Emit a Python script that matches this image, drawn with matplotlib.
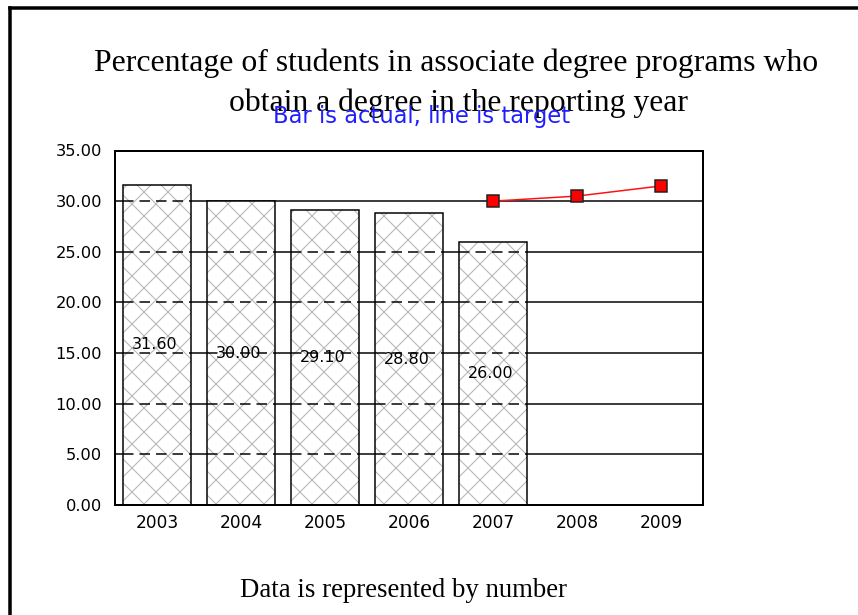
import matplotlib
matplotlib.use("Agg")
import matplotlib.pyplot as plt
from matplotlib.lines import Line2D
import numpy as np

# ---- data ----
years = ["2003", "2004", "2005", "2006", "2007", "2008", "2009"]
actual_years = ["2003", "2004", "2005", "2006", "2007"]
actual_values = [31.60, 30.00, 29.10, 28.80, 26.00]
target_years = ["2007", "2008", "2009"]
target_values = [30.0, 30.5, 31.5]
y_ticks = [0, 5, 10, 15, 20, 25, 30, 35]

title_line1 = "Percentage of students in associate degree programs who"
title_line2 = "obtain a degree in the reporting year"
subtitle = "Bar is actual, line is target"
footer = "Data is represented by number"

DPI = 72
W, H = 858, 615
plt.rcParams['hatch.linewidth'] = 1.1
fig = plt.figure(figsize=(W / DPI, H / DPI), dpi=DPI)
fig.patch.set_facecolor("white")

ax = fig.add_axes([115 / W, 1 - 505 / H, 588 / W, 354.5 / H])

xpos = {y: i for i, y in enumerate(years)}
bx = np.array([xpos[y] for y in actual_years])
tx = np.array([xpos[y] for y in target_years])
bw = 0.81

# solid gridlines behind bars
for yv in y_ticks[1:-1]:
    ax.axhline(yv, color="black", lw=1.5, zorder=1)

# hatched bars (gray hatch), then black outline
ax.bar(bx, actual_values, width=bw, facecolor="white", edgecolor="#b8b8b8",
       hatch="x", linewidth=0, zorder=2)
ax.bar(bx, actual_values, width=bw, facecolor="none", edgecolor="black",
       linewidth=1.5, zorder=4)

# dashed gridlines over the bars
for yv in y_ticks[1:-1]:
    for x0, v in zip(bx, actual_values):
        if v > yv:
            ax.hlines(yv, x0 - bw / 2, x0 + bw / 2, colors="black", lw=1.5,
                      linestyles=(0, (7, 4)), zorder=3)

# value labels at mid-height
for x0, v in zip(bx, actual_values):
    ax.text(x0 - 0.03, v / 2, f"{v:.2f}", ha="center", va="center",
            fontsize=16, family="DejaVu Sans", color="black", zorder=5)

# target line
ax.plot(tx, target_values, color="#ff1010", lw=1.5, zorder=6)
ax.plot(tx, target_values, ls="none", marker="s", markersize=12,
        markerfacecolor="#ff0000", markeredgecolor="#202020",
        markeredgewidth=1.5, zorder=7)

ax.set_xlim(-0.5, len(years) - 0.5)
ax.set_ylim(0, 35)
ax.set_xticks(range(len(years)))
ax.set_xticklabels(years, fontsize=17, family="DejaVu Sans")
ax.set_yticks(y_ticks)
ax.set_yticklabels([f"{v:.2f}" for v in y_ticks], fontsize=16.2,
                   family="DejaVu Sans")
ax.tick_params(axis="both", length=0)
ax.tick_params(axis="y", pad=13)
ax.tick_params(axis="x", pad=9)
for s in ax.spines.values():
    s.set_linewidth(2)
    s.set_color("black")
    s.set_zorder(8)

# titles
serif = ["Liberation Serif", "DejaVu Serif"]
fig.text(0.532, 1 - 70.7 / H, title_line1, ha="center", va="baseline",
         fontsize=31.8, family=serif)
fig.text(0.5345, 1 - 110.7 / H, title_line2, ha="center", va="baseline",
         fontsize=31.6, family=serif)
fig.text(0.4913, 1 - 123.3 / H, subtitle, ha="center", va="baseline",
         fontsize=22.6, family="DejaVu Sans", color="#1f1fff")
fig.text(0.4697, 1 - 597.3 / H, footer, ha="center", va="baseline",
         fontsize=26.7, family=serif)

# figure frame (top and left)
fig.add_artist(Line2D([10.2 / W, 1.0], [1 - 7.5 / H, 1 - 7.5 / H],
                      transform=fig.transFigure, color="black", lw=3.5,
                      solid_capstyle="projecting"))
fig.add_artist(Line2D([10.2 / W, 10.2 / W], [1 - 7.5 / H, 0.0],
                      transform=fig.transFigure, color="black", lw=3.5,
                      solid_capstyle="projecting"))

fig.savefig("out.png", dpi=DPI, facecolor="white")
